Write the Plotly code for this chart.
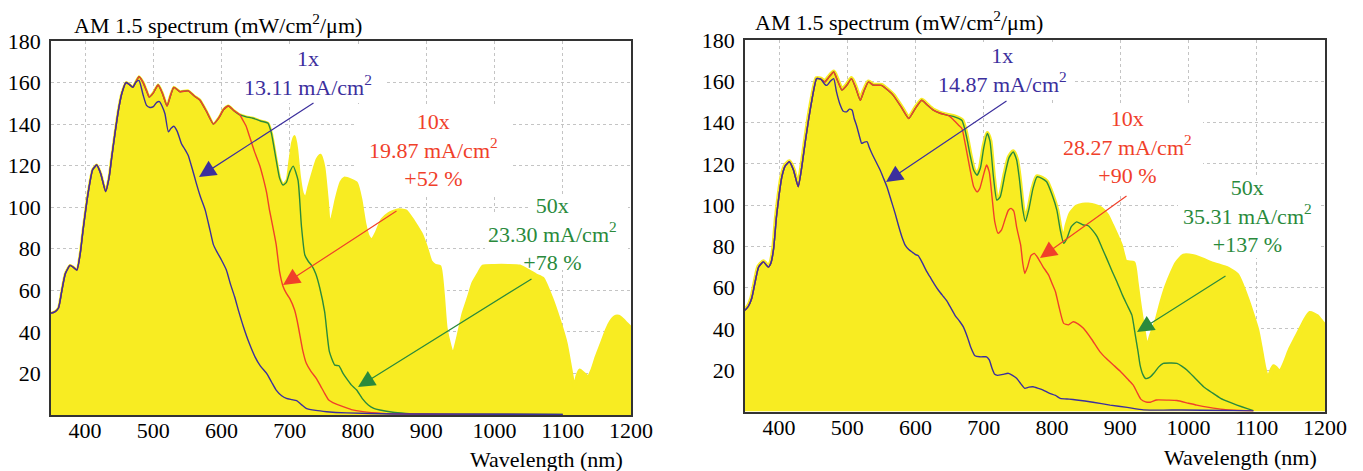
import plotly.graph_objects as go

FONT = "Liberation Serif"
YELLOW = "#f8ec22"
BLUE = "#3c2f9d"
RED = "#f0402a"
GREEN = "#2a8a3c"

X_TICKS = [400, 500, 600, 700, 800, 900, 1000, 1100, 1200]
Y_TICKS = [20, 40, 60, 80, 100, 120, 140, 160, 180]

# ---------------- LEFT PANEL ----------------
WL_AM_L = [350, 355, 361, 366, 371, 378, 383, 388, 393, 397, 401, 405, 411, 417, 423, 430, 435, 439, 444, 449,
           454, 460, 465, 470, 474, 479, 485, 490, 494, 500, 507, 513, 520, 525, 530, 539, 551, 560, 568, 578,
           588, 596, 603, 610, 618, 627, 636, 646, 657, 668, 673, 680, 685, 690, 696, 700, 704, 707, 710, 714,
           718, 723, 728, 735, 740, 745, 750, 755, 758, 762, 768, 775, 780, 790, 798, 804, 810, 815, 820, 827,
           835, 845, 858, 870, 880, 885, 893, 900, 907, 913, 920, 925, 929, 935, 939, 945, 954, 962, 968, 976,
           983, 1000, 1020, 1037, 1050, 1061, 1071, 1083, 1095, 1105, 1112, 1117, 1121, 1125, 1131, 1137, 1143,
           1149, 1156, 1164, 1170, 1176, 1182, 1188, 1194, 1200]
AM_L = [49, 49.5, 51.5, 60, 68, 72, 71, 69.8, 78, 89, 99, 108, 118, 120.3, 116, 107.5, 114, 124, 136, 147,
        155, 160, 159, 157.7, 160, 162.8, 160, 156, 153, 155, 158.8, 155, 148.7, 153.5, 157.7, 155.6, 156, 153.5, 151.6, 146,
        140, 143, 147, 148.7, 146.5, 144.4, 143.5, 142.8, 141.5, 140.4, 135.6, 122.7, 114, 110.7, 113, 122, 131, 134, 128, 115,
        107, 104, 110, 118, 123, 125, 119, 103, 92, 95, 104, 112, 114, 113, 111.5, 104, 92, 86, 84, 88,
        94, 97, 98.7, 98.3, 94, 91.4, 87, 81, 73.8, 72, 71.5, 58, 42, 33, 29, 36, 49, 57, 63.4, 68,
        71.7, 72, 72, 71.7, 69.5, 67.4, 65.8, 57, 45.7, 34.5, 22, 13.6, 19, 21.7, 20, 18.4, 22,
        28, 34, 41, 45, 47.3, 47.5, 46, 44, 42]

# 50x (green): follows AM1.5 up to 668 nm, then:
WL_G_L = [673, 680, 685, 690, 695, 700, 705, 712, 717, 722, 727, 732, 738, 744, 751, 758, 766, 772, 778, 783,
          790, 798, 806, 815, 823, 832, 851, 870, 890, 950, 1100]
G_L = [135.6, 122.7, 114, 110.7, 112, 117, 119.8, 113, 91, 77, 74, 72, 68, 61, 49.7, 30.5, 24, 23.7, 20, 17.6,
       14.5, 12, 8, 4.8, 3.2, 2.4, 1.3, 0.8, 0.5, 0.4, 0.3]

# 10x (red): follows AM1.5 up to 627 nm, then:
WL_R_L = [631, 636, 641, 648, 656, 661, 666, 670, 673, 676, 680, 685, 690, 695, 700, 707, 711, 715, 719, 724,
          731, 739, 745, 751, 757, 763, 770, 778, 790, 807, 836, 870, 950, 1100]
R_L = [142, 139, 134, 127, 120, 114, 107, 99, 94, 89, 82, 69, 62, 58.5, 56, 50.5, 45, 38, 31, 25,
       21, 17.5, 14, 10.4, 7.2, 6, 5, 4, 2.6, 1.6, 0.8, 0.5, 0.3, 0.2]

# 1x (blue): follows AM1.5 up to 474 nm, then:
WL_B_L = [479, 485, 490, 495, 500, 505, 509, 513, 517, 522, 526, 530, 535, 541, 546, 551, 557, 563, 569, 576,
          583, 588, 593, 600, 607, 613, 619, 625, 632, 640, 649, 657, 666, 673, 680, 688, 695, 703, 710, 717,
          724, 738, 754, 783, 850, 1100]
B_L = [161, 154, 149, 148, 148.4, 150.5, 150.8, 148.5, 145, 136.3, 138, 139, 136.5, 130.7, 128, 125, 118.5, 111.5, 105, 98.6,
       89, 82, 78.6, 74.5, 69.8, 63, 57, 50, 42.5, 35, 28, 23.5, 20, 16, 12, 9.3, 8, 7.4, 6.9, 5,
       3.2, 2.2, 1.6, 1.0, 0.5, 0.3]

# ---------------- RIGHT PANEL ----------------
WL_TOP_R = [350, 355, 360, 365, 370, 377, 384, 388, 392, 396, 400, 404, 409, 415, 421, 428, 433, 438, 443, 448,
            455, 461, 467, 473, 480, 486, 492, 499, 506, 512, 519, 524, 531, 538, 550, 560, 567, 579, 590, 599,
            609, 617, 626, 636, 646, 655, 663, 668]
TOP_R = [49, 51, 55, 63, 70, 72.5, 70, 72, 79, 94, 105, 113.7, 119, 121, 117, 108.9, 118, 129.9, 141, 150.8,
         161.3, 161, 159.7, 162, 164.5, 160, 155.7, 158, 161.3, 157, 150.8, 155, 159.7, 158.1, 158, 155.5, 153.3, 147.5, 142, 146.5,
         150.8, 148.5, 146, 144.5, 143.6, 143, 142, 141]

# 50x (green) after 668 nm
WL_G_R = [672, 676, 680, 685, 690, 695, 700, 705, 709, 714, 719, 724, 731, 737, 743, 748, 752, 757, 761, 766,
          772, 778, 785, 792, 800, 807, 812, 817, 822, 828, 836, 845, 853, 860, 866, 873, 880, 888, 895, 903,
          910, 917, 922, 926, 929, 933, 937, 943, 949, 956, 963, 975, 983, 990, 998, 1010, 1022, 1035, 1047, 1060,
          1071, 1085, 1095]
G_R = [137, 131, 124, 117, 114.5, 118, 128, 134.7, 131, 114, 102.4, 104, 115, 123, 125.8, 122, 113, 98, 92, 98,
       108, 113.7, 113, 111.3, 105, 97.6, 88, 81.5, 84, 89.5, 91.9, 90.5, 90, 87.5, 84.7, 79.5, 74.2, 68, 62.9, 56.5,
       51.6, 46.7, 37, 29, 22.5, 18, 16, 16.5, 18.5, 21.5, 23.3, 23.5, 23.3, 22, 20, 16, 12, 9, 6.4, 4.5,
       3.1, 1.5, 0.4]

# AM1.5 (yellow) beyond 812 nm (below 812 it hugs the 50x curve)
WL_AM_R = [817, 822, 828, 836, 845, 853, 862, 872, 880, 887, 893, 900, 907, 913, 919, 923, 927, 933, 939, 946,
           954, 961, 968, 976, 983, 993, 1007, 1020, 1032, 1044, 1056, 1071, 1078, 1086, 1093, 1100, 1105, 1110, 1117, 1120,
           1125, 1130, 1134, 1141, 1149, 1157, 1164, 1171, 1178, 1188, 1193, 1198, 1200]
AM_R = [82, 90, 96, 99, 100, 100, 99.5, 98, 95, 90.3, 86, 80.6, 72.5, 72, 71.8, 63, 53, 40, 29.8, 37,
        44.3, 53, 60.4, 67, 71.8, 75.3, 75, 73.5, 71.8, 70.5, 69.3, 66, 61, 54, 47, 39.5, 31, 21.7, 13.7, 18,
        21.7, 20, 18.5, 23, 29.8, 35, 39.5, 44, 47.5, 46, 44, 42, 41.5]

# 10x (red) after 646 nm
WL_R_R = [650, 655, 663, 668, 672, 676, 680, 685, 690, 694, 699, 704, 708, 712, 716, 721, 726, 731, 736, 740,
          744, 748, 751, 754, 757, 760, 764, 769, 774, 780, 787, 795, 800, 805, 810, 817, 824, 831, 838, 846,
          858, 870, 880, 890, 900, 912, 919, 925, 930, 937, 944, 953, 970, 983, 1000, 1012, 1030, 1051, 1075, 1095]
R_R = [143, 141.5, 138.7, 137, 131, 124, 117, 109, 106.4, 108, 114, 119.4, 116, 104, 92, 86.3, 88, 93, 97.5, 98.4,
       97, 89.5, 85, 80.6, 72, 66.9, 70, 75.5, 76.6, 74, 70, 66.1, 62, 58, 51, 42.7, 42, 43.5, 42.5, 40.3,
       35, 29, 25.5, 22.5, 19.5, 15.3, 12.8, 9, 6, 4.7, 4.5, 5.6, 5.5, 5.3, 4, 3.1, 2, 1, 0.5, 0.2]

# 1x (blue) after 461 nm
WL_B_R = [467, 470, 475, 480, 484, 489, 494, 499, 503, 507, 510, 514, 518, 521, 525, 529, 532, 536, 542, 548,
          553, 558, 564, 570, 575, 580, 585, 590, 596, 600, 604, 610, 616, 621, 627, 634, 641, 646, 652, 658,
          665, 670, 676, 681, 687, 694, 700, 704, 708, 712, 716, 720, 728, 736, 742, 748, 754, 760, 766, 772,
          780, 787, 795, 805, 812, 825, 836, 860, 885, 910, 934, 990, 1050, 1095]
B_R = [158.5, 158, 160, 161.3, 155, 149, 145.5, 145.2, 146.5, 146, 142, 138, 133, 129.9, 130.5, 130.7, 128, 125, 121, 117,
       113, 108.9, 102.5, 96, 90, 84.6, 80.5, 78.5, 77, 76, 75.5, 72, 68, 65.3, 62, 58.5, 55.6, 53.5, 50, 46.5,
       43.5, 41, 36, 31, 27, 26.5, 26.5, 26.5, 25, 21, 18, 17.5, 18, 18.5, 17.5, 16.1, 13.5, 11.2, 11.8, 12,
       11.2, 10.4, 9, 7.8, 6.4, 6, 5.6, 4.5, 3.1, 2, 0.8, 0.7, 0.5, 0.3]

LABELS_L = ["1x<br>13.11 mA/cm<sup>2</sup>", "10x<br>19.87 mA/cm<sup>2</sup><br>+52 %",
            "50x<br>23.30 mA/cm<sup>2</sup><br>+78 %"]
LABELS_R = ["1x<br>14.87 mA/cm<sup>2</sup>", "10x<br>28.27 mA/cm<sup>2</sup><br>+90 %",
            "50x<br>35.31 mA/cm<sup>2</sup><br>+137 %"]
TITLE = "AM 1.5 spectrum (mW/cm<sup>2</sup>/\u03bcm)"
XLABEL = "Wavelength (nm)"


def join(wl_top, v_top, cut, wl_tail, v_tail):
    w = [x for x in wl_top if x <= cut]
    v = [y for x, y in zip(wl_top, v_top) if x <= cut]
    return w + list(wl_tail), v + list(v_tail)


for a, b in [(WL_AM_L, AM_L), (WL_G_L, G_L), (WL_R_L, R_L), (WL_B_L, B_L), (WL_TOP_R, TOP_R),
             (WL_G_R, G_R), (WL_AM_R, AM_R), (WL_R_R, R_R), (WL_B_R, B_R)]:
    assert len(a) == len(b), (len(a), len(b))

# build curves
yl = (WL_AM_L, AM_L)
gl = join(WL_AM_L, AM_L, 668, WL_G_L, G_L)
rl = join(WL_AM_L, AM_L, 627, WL_R_L, R_L)
bl = join(WL_AM_L, AM_L, 474, WL_B_L, B_L)

gr = join(WL_TOP_R, TOP_R, 668, WL_G_R, G_R)
yr = join(gr[0], gr[1], 812, WL_AM_R, AM_R)
rr = join(WL_TOP_R, TOP_R, 646, WL_R_R, R_R)
br = join(WL_TOP_R, TOP_R, 461, WL_B_R, B_R)

fig = go.Figure()


def add_panel(xa, ya, yel, grn, red, blu, halo):
    fig.add_trace(go.Scatter(x=yel[0], y=yel[1], mode="lines", fill="tozeroy", fillcolor=YELLOW,
                             line=dict(color=YELLOW, width=halo, shape="spline", smoothing=0.5),
                             xaxis=xa, yaxis=ya, hoverinfo="skip"))
    for (w, v), c in [(grn, GREEN), (red, RED), (blu, BLUE)]:
        fig.add_trace(go.Scatter(x=w, y=v, mode="lines",
                                 line=dict(color=c, width=1.4, shape="spline", smoothing=0.5),
                                 xaxis=xa, yaxis=ya, hoverinfo="skip"))


add_panel("x", "y", yl, gl, rl, bl, 3)
add_panel("x2", "y2", yr, gr, rr, br, 5)

W, H = 1363, 471
# plot-area pixel frames: (left, right, top, bottom)
FRAME_L = (51, 631, 41, 415)
FRAME_R = (745, 1325, 40, 411.5)
FS = 22


def axis_common():
    return dict(showline=True, linecolor="#333333", linewidth=1.6, mirror=True, ticks="",
                tickfont=dict(family=FONT, size=FS, color="black"), zeroline=False, automargin=False,
                showgrid=True, gridcolor="#c4c4c4", gridwidth=1, griddash="dot")


def xaxis(frame, anchor):
    d = axis_common()
    d.update(domain=[frame[0] / W, frame[1] / W], anchor=anchor, range=[350, 1200],
             tickvals=X_TICKS, ticktext=[str(t) for t in X_TICKS], ticklabelstandoff=-5)
    return d


def yaxis(frame, anchor):
    d = axis_common()
    d.update(domain=[1 - frame[3] / H, 1 - frame[2] / H], anchor=anchor, range=[0, 180],
             tickvals=Y_TICKS, ticktext=[str(t) for t in Y_TICKS], ticklabelstandoff=4)
    return d


def px2data(frame, px, py):
    l, r, t, b = frame
    return 350 + (px - l) / (r - l) * 850, (b - py) / (b - t) * 180


annotations = []
shapes = []


def panel_text(frame, xr, yr_, labels, label_px, arrows_px, boxes_px, title_px, xlabel_px):
    colors = [BLUE, RED, GREEN]
    # white backgrounds behind the text blocks (hide grid only)
    for (x0, y0, x1, y1) in boxes_px:
        a0 = px2data(frame, x0, y1)
        a1 = px2data(frame, x1, y0)
        shapes.append(dict(type="rect", xref=xr, yref=yr_, x0=a0[0], y0=a0[1], x1=a1[0], y1=a1[1],
                           fillcolor="white", line=dict(width=0), layer="between"))
    for txt, (cx, cy), c in zip(labels, label_px, colors):
        lx, ly = px2data(frame, cx, cy)
        annotations.append(dict(text=txt, x=lx, y=ly, xref=xr, yref=yr_, showarrow=False,
                                xanchor="center", yanchor="middle", align="center",
                                font=dict(family=FONT, size=FS, color=c)))
    for ((tx, ty), (hx, hy)), c in zip(arrows_px, colors):
        t = px2data(frame, tx, ty)
        h = px2data(frame, hx, hy)
        annotations.append(dict(text="", x=h[0], y=h[1], ax=t[0], ay=t[1], xref=xr, yref=yr_,
                                axref=xr, ayref=yr_, showarrow=True, arrowhead=2, arrowsize=2.8,
                                arrowwidth=1.2, arrowcolor=c, standoff=0, startstandoff=0))
    annotations.append(dict(text=TITLE, x=title_px[0] / W, y=1 - title_px[1] / H, xref="paper", yref="paper",
                            xanchor="left", yanchor="middle", showarrow=False,
                            font=dict(family=FONT, size=FS, color="black")))
    annotations.append(dict(text=XLABEL, x=xlabel_px[0] / W, y=1 - xlabel_px[1] / H, xref="paper", yref="paper",
                            xanchor="center", yanchor="middle", showarrow=False,
                            font=dict(family=FONT, size=FS, color="black")))


panel_text(FRAME_L, "x", "y", LABELS_L,
           [(308, 73), (433, 150), (552, 234)],
           [((315, 102), (199, 177)), ((398, 210), (283, 285)), ((533, 278), (358, 387))],
           [(240, 44, 384, 103), (357, 105, 510, 195), (530, 195, 628, 215), (485, 215, 628, 270)],
           (72, 24), (546, 459))
panel_text(FRAME_R, "x2", "y2", LABELS_R,
           [(1003, 70), (1127, 147), (1247, 216)],
           [((1008, 100), (886, 182)), ((1128, 195), (1040, 258)), ((1227, 275), (1137, 332))],
           [(930, 42, 1075, 100), (1050, 105, 1203, 195), (1178, 175, 1318, 258)],
           (753, 21), (1240, 457))

fig.update_layout(
    width=W, height=H, autosize=False,
    margin=dict(l=0, r=0, t=0, b=0, pad=0, autoexpand=False),
    paper_bgcolor="white", plot_bgcolor="white",
    showlegend=False,
    xaxis=xaxis(FRAME_L, "y"), yaxis=yaxis(FRAME_L, "x"),
    xaxis2=xaxis(FRAME_R, "y2"), yaxis2=yaxis(FRAME_R, "x2"),
    annotations=annotations, shapes=shapes,
    font=dict(family=FONT),
)

fig.write_html("out.html", config={"displayModeBar": False},
               post_script="document.body.style.margin='0px';document.body.style.overflow='hidden';")
